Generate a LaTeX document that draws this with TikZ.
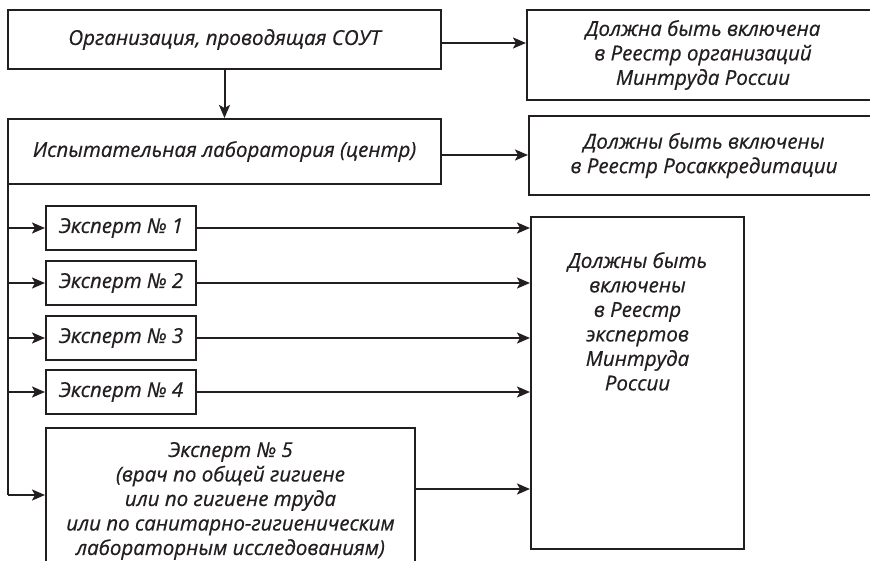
\documentclass[tikz,border=0pt]{standalone}
\usepackage{fontspec}
\setmainfont{Open Sans}[ItalicFeatures={FakeBold=0.6}]
\usetikzlibrary{arrows.meta}
\definecolor{ink}{HTML}{231F20}
\newcommand{\diafont}{\itshape\fontsize{20.5}{24.5}\selectfont\lineskiplimit=-\maxdimen}
\tikzset{
  box/.style={draw=ink, line width=2pt, rectangle, inner sep=0pt, align=center,
              font=\diafont, text=ink},
  arr/.style={draw=ink, line width=2pt, -{Stealth[length=13pt,width=11pt,inset=3pt]}},
  ln/.style={draw=ink, line width=2pt},
  txt/.style={align=center, font=\diafont, text=ink, inner sep=0pt}
}
\begin{document}
\begin{tikzpicture}[x=1pt,y=-1pt]
\useasboundingbox (0,0) rectangle (870,561);
\clip (0,0) rectangle (870,561);
% boxes
\node[box, minimum width=433pt, minimum height=59pt] (org) at (224.5,39.5) {Организация, проводящая СОУТ};
\node[box, minimum width=433pt, minimum height=65pt] (lab) at (224.5,151.5) {Испытательная лаборатория (центр)};
\node[box, minimum width=352pt, minimum height=90pt] (reg1) at (703,55) {Должна быть включена\\в Реестр организаций\\Минтруда России};
\node[box, minimum width=350pt, minimum height=79pt] (reg2) at (704,155.5) {Должны быть включены\\в Реестр Росаккредитации};
\node[box, minimum width=150pt, minimum height=44pt] (e1) at (121,228) {Эксперт №~1};
\node[box, minimum width=150pt, minimum height=44pt] (e2) at (121,283) {Эксперт №~2};
\node[box, minimum width=150pt, minimum height=44pt] (e3) at (121,338) {Эксперт №~3};
\node[box, minimum width=150pt, minimum height=44pt] (e4) at (121,392) {Эксперт №~4};
\node[box, minimum width=369pt, minimum height=146pt] (e5) at (230.5,501) {Эксперт №~5\\(врач по общей гигиене\\или по гигиене труда\\или по санитарно-гигиеническим\\лабораторным исследованиям)};
\node[box, minimum width=213pt, minimum height=332pt] (reg3) at (637.5,383) {};
\node[txt, anchor=north] (reg3t) at ([yshift=-36pt]reg3.north) {Должны быть\\включены\\в Реестр\\экспертов\\Минтруда\\России};
% connectors
\draw[arr] (org.south) -- (lab.north);
\draw[arr] (org.east |- 0,43) -- (reg1.west |- 0,43);
\draw[arr] (lab.east |- 0,155) -- (reg2.west |- 0,155);
\coordinate (top) at ([xshift=1pt]lab.south west);
\coordinate (corner) at (top |- 0,495);
\draw[ln] (top) -- (corner);
\draw[arr] (corner) -- (e5.west |- corner);
\foreach \e in {e1,e2,e3,e4}{
  \draw[arr] (top |- \e.west) -- (\e.west);
  \draw[arr] (\e.east) -- (reg3.west |- \e.east);
}
\draw[arr] (e5.east |- 0,489) -- (reg3.west |- 0,489);
\end{tikzpicture}
\end{document}
